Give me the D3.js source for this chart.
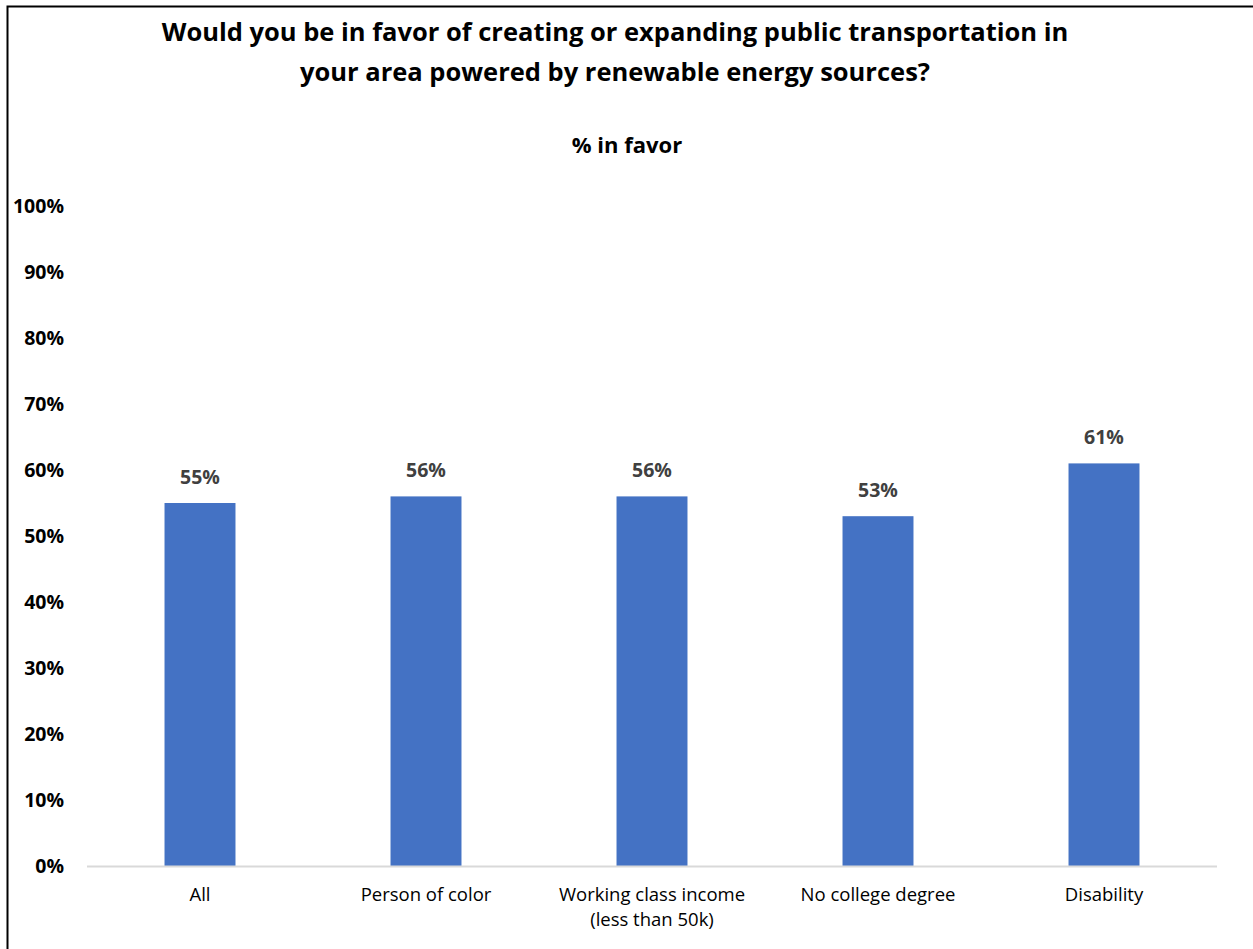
<!DOCTYPE html>
<html>
<head>
<meta charset="utf-8">
<script src="https://cdn.jsdelivr.net/npm/d3@7"></script>
<style>
  html, body { margin: 0; padding: 0; background: #fff; }
  svg { display: block; font-family: "Open Sans", "Noto Sans", sans-serif; }
</style>
</head>
<body>
<svg id="chart" width="1253" height="949"></svg>
<script>
// Survey results: share in favor, by group
const categories = [
  ["All"],
  ["Person of color"],
  ["Working class income", "(less than 50k)"],
  ["No college degree"],
  ["Disability"]
];
const values = [55, 56, 56, 53, 61];
const yTicks = [0, 10, 20, 30, 40, 50, 60, 70, 80, 90, 100];
const titleLines = [
  "Would you be in favor of creating or expanding public transportation in",
  "your area powered by renewable energy sources?"
];
const subtitle = "% in favor";

const svg = d3.select("#chart");
const W = 1253, H = 949;

// outer frame (left and top edges visible)
svg.append("rect")
  .attr("x", 7.5).attr("y", 6.5)
  .attr("width", W + 10).attr("height", H + 10)
  .attr("fill", "none").attr("stroke", "#000").attr("stroke-width", 2);

const margin = { left: 87, right: 36, top: 206, bottom: 83 };
const x = d3.scaleBand()
  .domain(d3.range(categories.length))
  .range([margin.left, W - margin.right])
  .paddingInner(0.686)
  .paddingOuter(0.343);
const y = d3.scaleLinear().domain([0, 100]).range([H - margin.bottom, margin.top]);

// title
const title = svg.append("text")
  .attr("text-anchor", "middle")
  .attr("font-weight", "bold")
  .attr("font-size", 25.5)
  .attr("fill", "#000");
titleLines.forEach((t, i) => {
  title.append("tspan").attr("x", 615).attr("y", 41 + i * 40).text(t);
});

svg.append("text")
  .attr("x", 627).attr("y", 153)
  .attr("text-anchor", "middle")
  .attr("font-weight", "bold")
  .attr("font-size", 22)
  .text(subtitle);

// y axis labels (no axis line)
const yAxis = d3.axisLeft(y)
  .tickValues(yTicks)
  .tickFormat(d => d + "%")
  .tickSize(0)
  .tickPadding(0);
const gy = svg.append("g")
  .attr("transform", `translate(64,0)`)
  .call(yAxis);
gy.select(".domain").remove();
gy.selectAll("text")
  .attr("font-family", "'Open Sans', sans-serif")
  .attr("font-size", 19.5)
  .attr("font-weight", "bold")
  .attr("fill", "#000")
  .attr("dy", "0.35em");

// bars
svg.append("g").selectAll("rect")
  .data(values)
  .join("rect")
  .attr("x", (d, i) => x(i))
  .attr("width", x.bandwidth())
  .attr("y", d => y(d))
  .attr("height", d => y(0) - y(d))
  .attr("fill", "#4472c4");

// baseline
svg.append("line")
  .attr("x1", margin.left).attr("x2", W - margin.right)
  .attr("y1", y(0) + 0.5).attr("y2", y(0) + 0.5)
  .attr("stroke", "#d9d9d9").attr("stroke-width", 2);

// value labels
svg.append("g").selectAll("text")
  .data(values)
  .join("text")
  .attr("x", (d, i) => x(i) + x.bandwidth() / 2)
  .attr("y", d => y(d) - 19)
  .attr("text-anchor", "middle")
  .attr("font-weight", "bold")
  .attr("font-size", 19.5)
  .attr("fill", "#404040")
  .text(d => d + "%");

// category labels
const cat = svg.append("g").selectAll("text")
  .data(categories)
  .join("text")
  .attr("text-anchor", "middle")
  .attr("font-size", 18.5)
  .attr("fill", "#000");
cat.each(function(lines, i) {
  const t = d3.select(this);
  lines.forEach((l, j) => {
    t.append("tspan")
      .attr("x", x(i) + x.bandwidth() / 2)
      .attr("y", y(0) + 35 + j * 25)
      .text(l);
  });
});
</script>
</body>
</html>
